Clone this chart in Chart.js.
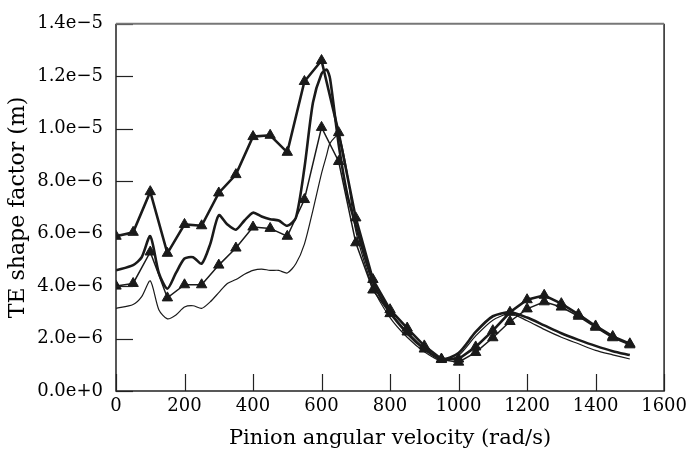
<!DOCTYPE html>
<html>
<head>
<meta charset="utf-8">
<script src="https://cdn.jsdelivr.net/npm/chart.js@4"></script>
<style>
  html, body { margin: 0; padding: 0; background: #fff; }
  #wrap { width: 692px; height: 462px; }
</style>
</head>
<body>
<div id="wrap"><canvas id="chart" width="692" height="462"></canvas></div>
<script>
// valores em micrometros (x 1e-6 m)
const velMarcada = [0, 50, 100, 150, 200, 250, 300, 350, 400, 450, 500, 550, 600, 650, 700, 750,
    800, 850, 900, 950, 1000, 1050, 1100, 1150, 1200, 1250, 1300, 1350, 1400, 1450, 1500];
const serieTriGrossa = [5.9, 6.05, 7.6, 5.25, 6.35, 6.3, 7.55, 8.25, 9.7, 9.75, 9.1, 11.8, 12.6, 9.85, 6.6, 4.25,
    3.1, 2.4, 1.72, 1.22, 1.22, 1.68, 2.3, 3.0, 3.48, 3.65, 3.33, 2.92, 2.48, 2.08, 1.8];
const serieTriFina = [4.0, 4.1, 5.3, 3.55, 4.05, 4.05, 4.8, 5.45, 6.25, 6.2, 5.9, 7.3, 10.05, 8.75, 5.65, 3.85,
    2.95, 2.25, 1.6, 1.2, 1.1, 1.47, 2.03, 2.65, 3.13, 3.4, 3.2, 2.85, 2.43, 2.03, 1.76];

const velLinha = [0, 50, 75, 100, 125, 150, 175, 200, 225, 250, 275, 300, 325, 350, 375, 400, 425, 450, 475, 500,
    525, 550, 575, 600, 615, 625, 650, 675, 700, 750, 800, 850, 900, 950, 1000, 1050, 1100, 1150, 1200, 1250,
    1300, 1350, 1400, 1450, 1500];
const serieLinhaGrossa = [4.6, 4.8, 5.1, 5.9, 4.5, 3.9, 4.5, 5.05, 5.1, 4.85, 5.6, 6.7, 6.35, 6.15, 6.5, 6.8, 6.65, 6.55, 6.5, 6.3,
    6.6, 8.5, 11.0, 12.1, 12.25, 11.9, 9.4, 7.5, 6.3, 4.15, 3.0, 2.2, 1.6, 1.2, 1.45, 2.25, 2.85, 3.0, 2.8, 2.5,
    2.2, 1.95, 1.72, 1.52, 1.37];
const serieLinhaFina = [3.15, 3.3, 3.6, 4.2, 3.1, 2.75, 2.9, 3.2, 3.25, 3.15, 3.4, 3.75, 4.1, 4.25, 4.45, 4.6, 4.65, 4.6, 4.6, 4.5,
    4.85, 5.6, 6.9, 8.3, 9.0, 9.45, 9.75, 8.3, 6.1, 3.95, 2.8, 2.05, 1.5, 1.15, 1.35, 2.1, 2.7, 2.95, 2.68, 2.35,
    2.05, 1.8, 1.55, 1.38, 1.22];

const ticksX = [0, 200, 400, 600, 800, 1000, 1200, 1400, 1600];
const ticksY = [0, 2, 4, 6, 8, 10, 12, 14];

const fonte = "'DejaVu Serif', serif";
const corLinha = '#1a1a1a';

function pares(xs, ys) {
    return xs.map((x, i) => ({ x, y: ys[i] }));
}

// moldura e ticks para dentro
const molduraPlugin = {
    id: 'moldura',
    afterDraw(chart) {
        const { ctx, chartArea: a, scales } = chart;
        ctx.save();
        ctx.strokeStyle = '#222';
        ctx.lineWidth = 1.2;
        scales.x.ticks.forEach(t => {
            const px = Math.round(scales.x.getPixelForValue(t.value)) + 0.5;
            ctx.beginPath(); ctx.moveTo(px, a.bottom); ctx.lineTo(px, a.bottom - 17); ctx.stroke();
        });
        scales.y.ticks.forEach(t => {
            const py = Math.round(scales.y.getPixelForValue(t.value)) + 0.5;
            ctx.beginPath(); ctx.moveTo(a.left, py); ctx.lineTo(a.left + 17, py); ctx.stroke();
        });
        ctx.lineWidth = 1.5;
        ctx.strokeStyle = '#222';
        ctx.beginPath();
        ctx.moveTo(a.left, a.top); ctx.lineTo(a.left, a.bottom); ctx.lineTo(a.right, a.bottom);
        ctx.lineTo(a.right, a.top);
        ctx.stroke();
        ctx.strokeStyle = '#777';
        ctx.lineWidth = 2;
        ctx.beginPath(); ctx.moveTo(a.left, a.top); ctx.lineTo(a.right, a.top); ctx.stroke();
        ctx.restore();
    }
};

new Chart(document.getElementById('chart').getContext('2d'), {
    type: 'line',
    data: {
        datasets: [
            {
                data: pares(velLinha, serieLinhaFina),
                borderColor: corLinha, borderWidth: 1.2, pointRadius: 0, tension: 0.25
            },
            {
                data: pares(velLinha, serieLinhaGrossa),
                borderColor: corLinha, borderWidth: 2.6, pointRadius: 0, tension: 0.25
            },
            {
                data: pares(velMarcada, serieTriFina),
                borderColor: corLinha, borderWidth: 1.5, tension: 0,
                pointStyle: 'triangle', pointRadius: 6, pointBackgroundColor: corLinha, pointBorderColor: corLinha, pointBorderWidth: 1
            },
            {
                data: pares(velMarcada, serieTriGrossa),
                borderColor: corLinha, borderWidth: 2.6, tension: 0,
                pointStyle: 'triangle', pointRadius: 6, pointBackgroundColor: corLinha, pointBorderColor: corLinha, pointBorderWidth: 1
            }
        ]
    },
    options: {
        responsive: false,
        animation: false,
        layout: { padding: { left: 0, top: 16, right: 23, bottom: 0 } },
        plugins: { legend: { display: false }, tooltip: { enabled: false } },
        scales: {
            x: {
                type: 'linear', min: 0, max: 1600,
                afterFit(s) { s.height = 71; },
                afterBuildTicks(s) { s.ticks = ticksX.map(v => ({ value: v })); },
                grid: { display: false, drawTicks: false },
                border: { display: false },
                ticks: {
                    color: '#000', padding: 5, maxRotation: 0, font: { family: fonte, size: 18 },
                    callback: v => String(v)
                },
                title: {
                    display: true, text: 'Pinion angular velocity (rad/s)', color: '#000',
                    font: { family: fonte, size: 21 }, padding: { top: 0, bottom: 11 }
                }
            },
            y: {
                min: 0, max: 14,
                afterFit(s) { s.width = 116; },
                afterBuildTicks(s) { s.ticks = ticksY.map(v => ({ value: v })); },
                grid: { display: false, drawTicks: false },
                border: { display: false },
                ticks: {
                    color: '#000', padding: 13, font: { family: fonte, size: 18 },
                    callback: v => (v * 1e-6).toExponential(1).replace('-', '\u2212')
                },
                title: {
                    display: true, text: 'TE shape factor (m)', color: '#000',
                    font: { family: fonte, size: 22 }, padding: { top: 5, bottom: 0 }
                }
            }
        }
    },
    plugins: [molduraPlugin]
});
</script>
</body>
</html>
